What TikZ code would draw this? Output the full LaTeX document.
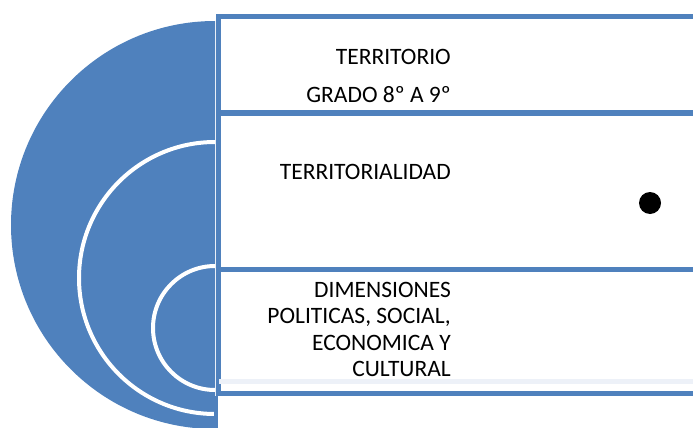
\documentclass[tikz,border=0pt]{standalone}
\usepackage{fontspec}
\setmainfont{Carlito}
\usetikzlibrary{positioning}
\definecolor{pnlblue}{HTML}{4F81BD}
\definecolor{pnlshade}{HTML}{EDF1F8}
\tikzset{
  panel/.style={draw=pnlblue, line width=4.6pt, fill=white, rectangle, anchor=north west, inner sep=0pt},
  ring/.style={draw=white, line width=4pt},
  lbl/.style={anchor=base east, inner sep=0pt, font=\fontsize{23.5}{26.5}\selectfont}
}

\begin{document}
\begin{tikzpicture}[x=1pt, y=-1pt]
    \useasboundingbox (0,0) rectangle (693,428);
    %% half disk with the white rings
    \begin{scope}
        \clip (0,0) rectangle (215,428);
        \fill[pnlblue] (215,225) circle (204pt);
        \draw[ring] (215,278) circle (136pt);
        \draw[ring] (215,328) circle (62pt);
    \end{scope}
    %% panels
    \draw (216,14) node[panel, minimum width=490pt, minimum height=96pt](top){} ;
    \draw (216,111) node[panel, minimum width=490pt, minimum height=156pt](mid){} ;
    \draw (216,267) node[panel, minimum width=490pt, minimum height=124pt](low){} ;
    \fill[pnlshade] (218.5,378.5) rectangle (693,383.5);
    \draw[pnlblue, line width=4.6pt] (low.south west) -- (216,428);
    %% texts
    \draw (451,65) node[lbl](t1){TERRITORIO} ;
    \draw (451,102) node[lbl](t2){GRADO 8º A 9º} ;
    \draw (451,179) node[lbl](m1){TERRITORIALIDAD} ;
    \draw (451,297) node[lbl](d1){DIMENSIONES} ;
    \draw (451,323.5) node[lbl](d2){POLITICAS, SOCIAL,} ;
    \draw (451,350) node[lbl](d3){ECONOMICA Y} ;
    \draw (451,376.5) node[lbl](d4){CULTURAL} ;
    %% bullet
    \draw (650,203) node[circle, fill=black, minimum size=22pt, inner sep=0pt](dot){} ;
\end{tikzpicture}
\end{document}
